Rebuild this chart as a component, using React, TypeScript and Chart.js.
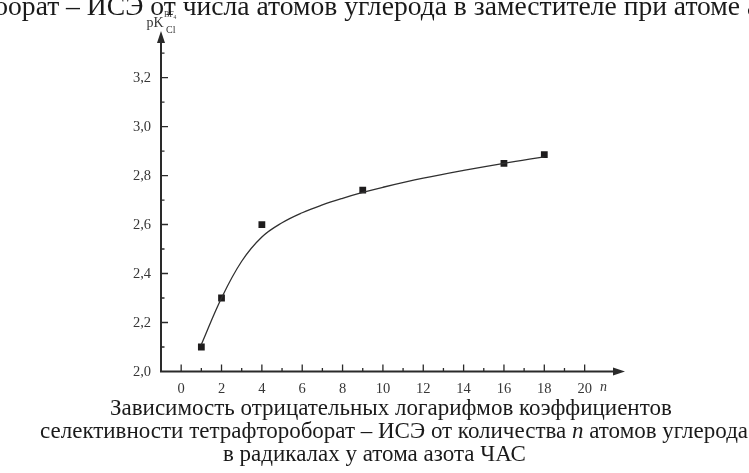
import React, { useEffect, useRef } from "react";
import { Chart, registerables } from "chart.js";

Chart.register(...registerables);

// ---- data ----
const pointN = [1, 2, 4, 9, 16, 18];
const pointPK = [2.1, 2.3, 2.6, 2.74, 2.85, 2.885];

const curveN = [1, 2, 3, 4, 5, 6, 7, 8, 9, 10, 12, 14, 16, 18];
const curvePK = [2.11, 2.3, 2.45, 2.549, 2.607, 2.648, 2.68, 2.707, 2.731, 2.752, 2.789, 2.821, 2.85, 2.876];

const xMajorTicks = [0, 2, 4, 6, 8, 10, 12, 14, 16, 18, 20];
const xMinorTicks = [1, 3, 5, 7, 9, 11, 13, 15, 17, 19];
const yMajorTicks = [2.0, 2.2, 2.4, 2.6, 2.8, 3.0, 3.2];
const yTickLabels = ["2,0", "2,2", "2,4", "2,6", "2,8", "3,0", "3,2"];
const yMinorTicks = [2.1, 2.3, 2.5, 2.7, 2.9, 3.1, 3.3];

const X_MIN = -1;
const X_MAX = 22;
const Y_MIN = 2.0;
const Y_MAX = 3.39;

const titleText = "борат – ИСЭ от числа атомов углерода в заместителе при атоме а";
const captionLine1 = "Зависимость отрицательных логарифмов коэффициентов";
const captionLine2a = "селективности тетрафтороборат – ИСЭ от количества ";
const captionLine2n = "n";
const captionLine2b = " атомов углерода";
const captionLine3 = "в радикалах у атома азота ЧАС";

const AXIS = "#2a2a2a";
const LABEL = "#363636";
const LINE = "#303030";
const MARK = "#1e1c1d";
const SERIF = '"Liberation Serif", "Times New Roman", serif';

const axesPlugin = {
  id: "arrowAxes",
  afterDraw(chart: any) {
    const { ctx, scales } = chart;
    const xs = scales.x;
    const ys = scales.y;
    const ox = xs.getPixelForValue(X_MIN);
    const oy = ys.getPixelForValue(Y_MIN);
    const xEnd = xs.getPixelForValue(X_MAX);
    const yEnd = ys.getPixelForValue(Y_MAX);
    ctx.save();
    ctx.strokeStyle = AXIS;
    ctx.fillStyle = AXIS;
    ctx.lineWidth = 2;
    ctx.beginPath();
    ctx.moveTo(ox, oy + 1);
    ctx.lineTo(ox, yEnd + 8);
    ctx.moveTo(ox - 1, oy);
    ctx.lineTo(xEnd - 8, oy);
    ctx.stroke();
    // arrow heads
    ctx.beginPath();
    ctx.moveTo(ox, yEnd);
    ctx.lineTo(ox - 4, yEnd + 12);
    ctx.lineTo(ox + 4, yEnd + 12);
    ctx.closePath();
    ctx.fill();
    ctx.beginPath();
    ctx.moveTo(xEnd, oy);
    ctx.lineTo(xEnd - 12, oy - 4);
    ctx.lineTo(xEnd - 12, oy + 4);
    ctx.closePath();
    ctx.fill();
    // ticks (inward)
    ctx.lineWidth = 1.3;
    ctx.beginPath();
    xMajorTicks.forEach((v) => {
      const px = xs.getPixelForValue(v);
      ctx.moveTo(px, oy);
      ctx.lineTo(px, oy - 7);
    });
    xMinorTicks.forEach((v) => {
      const px = xs.getPixelForValue(v);
      ctx.moveTo(px, oy);
      ctx.lineTo(px, oy - 3.5);
    });
    yMajorTicks.forEach((v) => {
      if (v === Y_MIN) return;
      const py = ys.getPixelForValue(v);
      ctx.moveTo(ox, py);
      ctx.lineTo(ox + 7, py);
    });
    yMinorTicks.forEach((v) => {
      const py = ys.getPixelForValue(v);
      ctx.moveTo(ox, py);
      ctx.lineTo(ox + 3.5, py);
    });
    ctx.stroke();
    // tick labels
    ctx.fillStyle = LABEL;
    ctx.font = "14.5px " + SERIF;
    ctx.textAlign = "center";
    ctx.textBaseline = "alphabetic";
    xMajorTicks.forEach((v) => {
      ctx.fillText(String(v), xs.getPixelForValue(v), oy + 21);
    });
    ctx.textAlign = "right";
    ctx.textBaseline = "middle";
    yMajorTicks.forEach((v, i) => {
      ctx.fillText(yTickLabels[i], ox - 10, ys.getPixelForValue(v) + 0.5);
    });
    // axis names
    ctx.textAlign = "left";
    ctx.textBaseline = "alphabetic";
    ctx.font = "italic 14px " + SERIF;
    ctx.fillText("n", xEnd - 25, oy + 19);
    ctx.font = "14px " + SERIF;
    ctx.fillText("pK", ox - 14.5, yEnd - 4.5);
    ctx.font = "8px " + SERIF;
    ctx.fillText("BF", ox + 3, yEnd - 14);
    ctx.font = "5.5px " + SERIF;
    ctx.fillText("4", ox + 12.5, yEnd - 12.5);
    ctx.font = "10px " + SERIF;
    ctx.fillText("Cl", ox + 5, yEnd + 2);
    ctx.restore();
  },
};

export default function App() {
  const canvasRef = useRef<HTMLCanvasElement | null>(null);

  useEffect(() => {
    const canvas = canvasRef.current;
    if (!canvas) return;
    const chart = new Chart(canvas, {
      type: "scatter",
      data: {
        datasets: [
          {
            data: curveN.map((n, i) => ({ x: n, y: curvePK[i] })),
            showLine: true,
            borderColor: LINE,
            borderWidth: 1.3,
            pointRadius: 0,
            tension: 0.4,
            fill: false,
          } as any,
          {
            data: pointN.map((n, i) => ({ x: n, y: pointPK[i] })),
            showLine: false,
            pointStyle: "rect",
            pointRadius: 4.8,
            backgroundColor: MARK,
            borderColor: MARK,
            borderWidth: 0,
          } as any,
        ],
      },
      options: {
        responsive: false,
        animation: false,
        events: [],
        layout: { padding: { left: 161, right: 124, top: 31, bottom: 101.5 } },
        plugins: {
          legend: { display: false },
          title: { display: false },
          tooltip: { enabled: false },
        },
        scales: {
          x: { type: "linear", min: X_MIN, max: X_MAX, display: false },
          y: { type: "linear", min: Y_MIN, max: Y_MAX, display: false },
        },
      },
      plugins: [axesPlugin],
    });
    return () => chart.destroy();
  }, []);

  const capStyle: React.CSSProperties = {
    position: "absolute",
    fontFamily: SERIF,
    fontSize: "23px",
    lineHeight: "23px",
    whiteSpace: "nowrap",
    color: "#1a1a1a",
  };

  return (
    <div
      style={{
        position: "fixed",
        left: 0,
        top: 0,
        width: 749,
        height: 473,
        overflow: "hidden",
        background: "#ffffff",
      }}
    >
      <canvas
        ref={canvasRef}
        width={749}
        height={473}
        style={{ position: "absolute", left: 0, top: 0, width: 749, height: 473 }}
      />
      <div
        style={{
          position: "absolute",
          left: -6,
          top: -10,
          fontFamily: SERIF,
          fontSize: "27.6px",
          lineHeight: "32px",
          whiteSpace: "nowrap",
          color: "#1a1a1a",
        }}
      >
        {titleText}
      </div>
      <div style={{ ...capStyle, left: 110, top: 395.7 }}>{captionLine1}</div>
      <div style={{ ...capStyle, left: 40, top: 418.7 }}>
        {captionLine2a}
        <i>{captionLine2n}</i>
        {captionLine2b}
      </div>
      <div style={{ ...capStyle, left: 223, top: 442.2 }}>{captionLine3}</div>
    </div>
  );
}
